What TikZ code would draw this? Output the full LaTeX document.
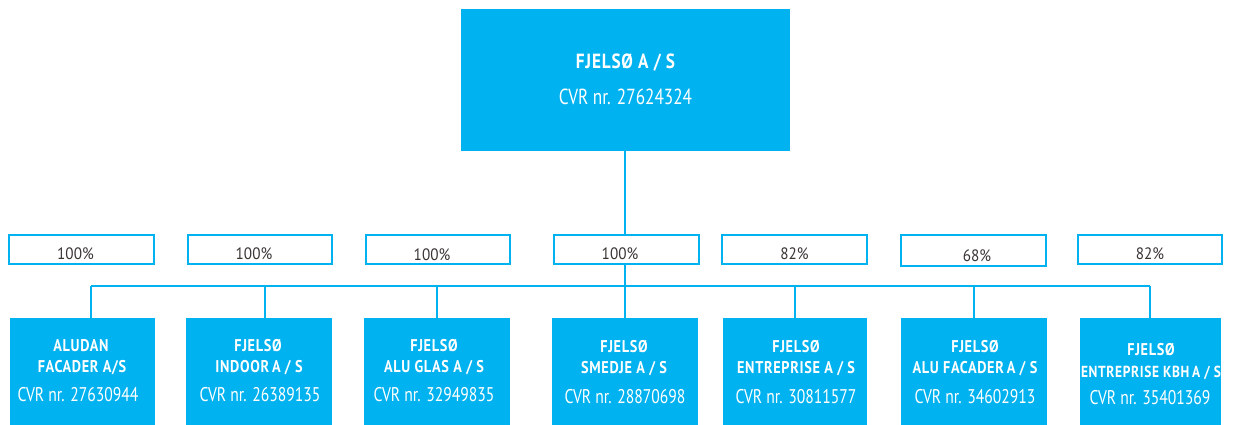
\documentclass[tikz,border=0pt]{standalone}
\usepackage{fontspec}
\setmainfont{PT Sans}
\newfontfamily\cvrfont[FakeStretch=0.79]{PT Sans}
\newfontfamily\pctfont[FakeStretch=0.92]{PT Sans}
\newfontfamily\ttlfont[LetterSpace=4,FakeStretch=0.84]{PT Sans}
\definecolor{fcyan}{HTML}{00B2F0}
\definecolor{ptext}{HTML}{3A3333}
\begin{document}
\begin{tikzpicture}[x=1pt,y=-1pt,
  cbox/.style={fill=fcyan,draw=none},
  pbox/.style={fill=white,draw=fcyan,line width=2pt},
  conn/.style={draw=fcyan,line width=1.6pt},
  ttl/.style={text=white,anchor=base,font=\ttlfont\bfseries\fontsize{17}{19}\selectfont,inner sep=0pt},
  bigttl/.style={text=white,anchor=base,font=\ttlfont\bfseries\fontsize{20.5}{23}\selectfont,inner sep=0pt},
  cvr/.style={text=white,anchor=base,font=\cvrfont\fontsize{19.8}{22}\selectfont,inner sep=0pt},
  bigcvr/.style={text=white,anchor=base,font=\cvrfont\fontsize{21.8}{24}\selectfont,inner sep=0pt},
  pct/.style={text=ptext,anchor=base,font=\pctfont\fontsize{16.5}{18}\selectfont,inner sep=0pt}]
\useasboundingbox (0,0) rectangle (1234,425);
% top box
\path[cbox] (461,9) rectangle (790,151);
\coordinate (topb) at (625,151);
\node[bigttl] (toptitle) at (625.5,69) {FJELSØ A / S};
\node[bigcvr] (topcvr) at (625.5,105) {CVR nr. 27624324};
% children boxes
\path[cbox] (10,318) rectangle (155,425);
\path[cbox] (186,318) rectangle (332,425);
\path[cbox] (364,318) rectangle (510,425);
\path[cbox] (552,318) rectangle (698,425);
\path[cbox] (723,318) rectangle (867,425);
\path[cbox] (901,318) rectangle (1047,425);
\path[cbox] (1080,318) rectangle (1221,425);
\coordinate (c1) at (91,318);
\coordinate (c2) at (265,318);
\coordinate (c3) at (437,318);
\coordinate (c4) at (625,318);
\coordinate (c5) at (795,318);
\coordinate (c6) at (974,318);
\coordinate (c7) at (1150,318);
\coordinate (b1) at (91,286);
\coordinate (b2) at (265,286);
\coordinate (b3) at (437,286);
\coordinate (b5) at (795,286);
\coordinate (b6) at (974,286);
\coordinate (b7) at (1150,286);
% connectors
\draw[conn] (topb) -- (c4);
\draw[conn] (b1) -- (b7);
\draw[conn] (b1) -- (c1);
\draw[conn] (b2) -- (c2);
\draw[conn] (b3) -- (c3);
\draw[conn] (b5) -- (c5);
\draw[conn] (b6) -- (c6);
\draw[conn] (b7) -- (c7);
% percent boxes
\path[pbox] (9,235) rectangle (154,264);
\path[pbox] (188,235) rectangle (332,264);
\path[pbox] (366,235) rectangle (510,264);
\path[pbox] (554,235) rectangle (699,264);
\path[pbox] (722,235) rectangle (867,264);
\path[pbox] (901,235) rectangle (1046,266);
\path[pbox] (1078,235) rectangle (1222,264);
\node[pct] (p1) at (75.5,259) {100\%};
\node[pct] (p2) at (254,259) {100\%};
\node[pct] (p3) at (432,260) {100\%};
\node[pct] (p4) at (620,259) {100\%};
\node[pct] (p5) at (794.5,259) {82\%};
\node[pct] (p6) at (977,261) {68\%};
\node[pct] (p7) at (1150,259) {82\%};
% child texts
\node[ttl] (t1a) at (81,351) {ALUDAN};
\node[ttl] (t1b) at (82,372) {FACADER A/S};
\node[cvr] (t1c) at (78,401) {CVR nr. 27630944};
\node[ttl] (t2a) at (258,351) {FJELSØ};
\node[ttl] (t2b) at (259,372) {INDOOR\,A / S};
\node[cvr] (t2c) at (260,401) {CVR nr. 26389135};
\node[ttl] (t3a) at (434,351) {FJELSØ};
\node[ttl] (t3b) at (434,372) {ALU GLAS A / S};
\node[cvr] (t3c) at (434,401) {CVR nr. 32949835};
\node[ttl] (t4a) at (624,352) {FJELSØ};
\node[ttl] (t4b) at (624,373) {SMEDJE A / S};
\node[cvr] (t4c) at (625,403) {CVR nr. 28870698};
\node[ttl] (t5a) at (796,352) {FJELSØ};
\node[ttl] (t5b) at (796,373) {ENTREPRISE A / S};
\node[cvr] (t5c) at (796,403) {CVR nr. 30811577};
\node[ttl] (t6a) at (975,352) {FJELSØ};
\node[ttl] (t6b) at (975,373) {ALU FACADER\,A / S};
\node[cvr] (t6c) at (975,403) {CVR nr. 34602913};
\node[ttl] (t7a) at (1151,355) {FJELSØ};
\node[ttl,font=\ttlfont\bfseries\fontsize{16}{18}\selectfont] (t7b) at (1151,377) {ENTREPRISE KBH\,A / S};
\node[cvr] (t7c) at (1150,404) {CVR nr. 35401369};
\end{tikzpicture}
\end{document}
